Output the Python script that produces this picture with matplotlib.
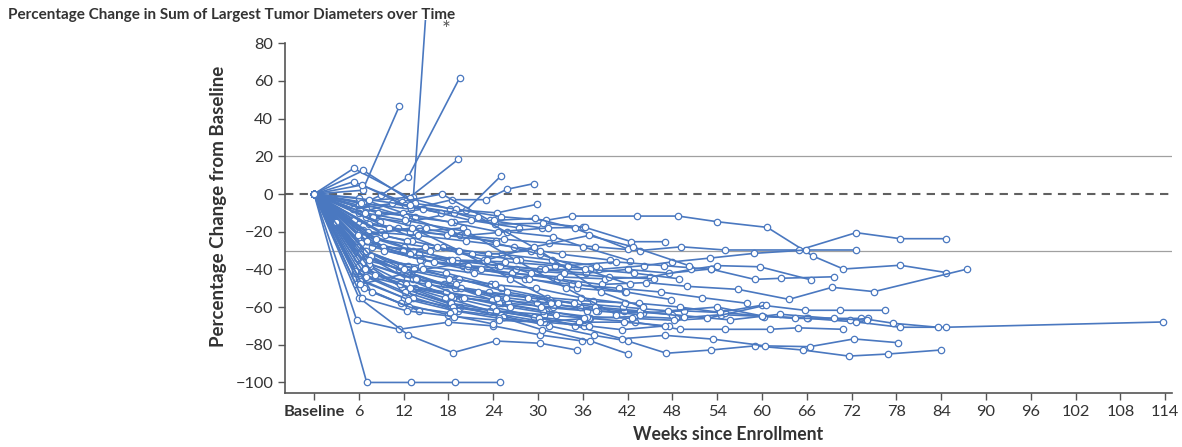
import matplotlib
matplotlib.use('Agg')
import matplotlib.pyplot as plt

# ===== dados (semana, % de variação) =====
weeks = [
    [0, 6, 13.3, 15.9],
    [0, 6.5, 11.4],
    [0, 6, 9, 12.6, 19.5],
    [0, 6, 12.4, 19.3],
    [0, 7, 12.5, 20.4, 25],
    [0, 6.5, 13, 18.5, 23, 25.8, 29.4],
    [0, 5.3, 12.8, 18.2, 24.5, 29.8],
    [0, 6.6, 13.5, 19, 25, 31, 34.5, 43.2, 48.8, 54, 60.7, 66.8, 70.9, 78.5, 84.7],
    [0, 5.3, 11.8, 17.1, 23.5, 30.5, 36],
    [0, 6.4, 12.2, 18.8, 24.2, 30.7, 36.3, 42.5, 47],
    [0, 7.05, 13, 18.9, 24.9],
    [0, 5.7, 11.4, 18, 24, 30.3, 35.9],
    [0, 6, 12.6, 18.6, 24.3, 30.3, 35.2],
    [0, 7.2, 13.2, 19.5, 25.5, 31.5, 37.5, 42, 47.2, 53.1, 59, 65.5, 71.6, 76.9, 83.9],
    [0, 6.2, 11.8, 18.2, 24.8, 30.5, 37, 42.1],
    [0, 5.8, 12.4, 18.6, 24, 29.5, 35, 41.2, 47, 53.4, 60.4, 66.4, 72.3, 78.2],
    [0, 6.8, 13, 19.2, 25.2, 31, 37, 43, 49, 55, 61, 64.8, 70.9],
    [0, 6, 12, 18.4, 24.4, 30.8, 36.8, 42.8, 48.5, 54.5, 60.3, 66.2, 72.6, 78.5, 84.6, 113.7],
    [0, 7.5, 13.5, 19.8, 26, 32, 38, 44, 49.5, 55, 60, 66, 73.3, 77.6, 83.5],
    [0, 5.5, 11.6, 17.6, 23.8, 29.8, 35.6, 41.5, 48, 55.7, 62.4, 71.8, 74.2],
    [0, 6.3, 12.6, 18.9, 25, 31.2, 37.3, 43.5, 49, 54.3, 60, 65.7, 70.5, 76.4],
    [0, 7, 14, 20, 26.5, 32.5, 38.5, 44.5, 50, 56.8, 63.6, 69.4, 75, 87.5],
    [0, 6.1, 12.1, 18.1, 24.6, 30.2, 36.4, 42, 47.5, 53.1, 59, 62.6, 69.7],
    [0, 5.9, 12.9, 19.6, 25.4, 31.4, 37.6, 43.6, 49.2, 55, 65, 72.6, 78.5, 84.6],
    [0, 6.7, 13.3, 19.1, 25.6, 32.2, 38.2, 44.2, 48, 53, 58.9, 65.9, 72.6],
    [0, 7.8, 14.5, 20.5, 26.5, 33, 39, 45, 50.5, 54, 59.7, 66.6],
    [0, 6.4, 11.4, 17.4, 23.4, 29.4, 35.4, 41.4, 47.4, 54, 60, 64.4, 69.7, 74],
    [0, 5.6, 12.3, 18.3, 24.7, 30.6, 36.6, 42.6, 48.2, 52.6, 60.5],
    [0, 6.9, 12.7, 18.7, 24.1, 29.6, 34.9, 42.1],
    [0, 8, 14, 20.2, 25.9, 32, 36, 42.3],
    [0, 6.2, 13.1, 19.3, 25.2, 31.8, 37.8],
    [0, 5.4, 11.2, 17.8, 24.3],
    [0, 7.3, 13.7, 19.9],
    [0, 6.6, 12.4],
    [0, 5.9, 11.9, 17.3, 23.3, 29.1],
    [0, 7.1, 14.2, 20.6, 27, 33.5, 39.5, 45.5],
    [0, 6.3, 12.8, 18.5, 24.9, 30.9, 36.9, 42.9, 48.9],
    [0, 5.7, 11.7, 17.7, 23.7, 29.7, 35.7, 41.7],
    [0, 6.9, 13.4, 19.4, 25.8, 31.6, 37.6, 43.6, 49.6],
    [0, 6.1, 12.5, 18.9, 24.5, 30.4, 36.5],
    [0, 7.6, 13.8, 20.1, 26.2, 32.4],
    [0, 5.8, 12, 18.1, 24.2],
    [0, 6.5, 13.2, 19],
    [0, 7.4, 13.6, 19.7, 25.7, 31.7, 37.7, 43.7],
    [0, 6, 11.5, 17.5, 23.5, 29.5, 35.5, 41.5, 47.5],
    [0, 6.8, 12.9, 18.4, 24.4, 30.1, 36.1],
    [0, 5.5, 12.2, 18.6, 25.1, 31.1],
    [0, 7, 13.3, 19.3, 25.3],
    [0, 6.2, 12.6, 18.8, 24.8, 30.8, 36.8, 41.2, 47],
    [0, 5.6, 11.6, 17.9, 24],
    [0, 6.7, 12.7, 18.2],
    [0, 7.7, 14.1],
    [0, 6.4, 12.4, 18.7, 24.7, 30.3, 36.2],
    [0, 8.5, 13.5],
    [0, 5.2, 10.5, 17],
    [0, 7.9, 14.6, 21, 27.5],
    [0, 9, 15],
    [0, 9.5],
    [0, 8.8],
    [0, 7.2, 13.9, 20.4, 26.8, 33.2, 39.6],
    [0, 6, 11.9, 18.3, 24.6, 31.3],
    [0, 9.2, 15.5],
    [0, 8.3, 14.8, 21.2, 27.6, 34, 40.4, 46.8, 53.2],
    [0, 6.3, 12.3, 18.3, 24.3, 30.3, 36.3, 42.3],
    [0, 7.4, 14.3, 21.4, 28.2, 34.6, 40.8, 46.4, 52, 58],
    [0, 2.9],
    [0, 9.4, 16, 22.4, 28.8, 35.2, 41.6],
    [0, 8.1, 15.2, 22, 28.6, 34.8],
    [0, 10, 16.5, 22.8, 29, 35.4, 41.8, 47.8],
    [0, 6.8, 12.2, 20.5, 27, 33.8, 40.5],
    [0, 5.9, 13.1, 19.4, 26.3, 32.7],
    [0, 7.3, 12.9, 22, 30.2, 38.4, 44],
    [0, 6.1, 14.6, 23.1, 29.5, 36.8, 42.7, 50.2],
]

changes = [
    [0, -4, -1.5, 150],
    [0, 2, 46.5],
    [0, -6, -0.5, 9, 61.7],
    [0, -10, -3, 18.4],
    [0, -12, -15, -8.5, 9.5],
    [0, -5, -8, -3, -3, 2.5, 5.5],
    [0, 13.6, -2, -8, -10, -5.5],
    [0, 12.5, -5, -8, -12, -14, -11.7, -11.7, -11.7, -14.7, -17.7, -32.9, -39.8, -37.8, -41.7],
    [0, 6.5, -4, 0, -14, -18, -17.7],
    [0, 4.8, -6, -10, -16, -15.5, -17.7, -25.3, -25.3],
    [0, -100, -100, -100, -100],
    [0, -66.8, -71.8, -68, -70, -74.8, -78],
    [0, -55, -74.8, -84.2, -78, -79.2, -82.8],
    [0, -40, -52, -60, -65, -70, -75, -78, -84.5, -82.8, -80.6, -82.8, -86, -84.9, -82.8],
    [0, -35, -50, -58, -65, -72, -78, -84.9],
    [0, -30, -45, -55, -60, -65, -70, -76.8, -75, -77, -80.6, -81, -76.9, -78.9],
    [0, -30, -42, -50, -58, -62, -66, -68, -71.8, -71.8, -71.8, -71, -71.8],
    [0, -45, -55, -60, -62, -64, -66, -65, -66, -64, -65, -66, -67.9, -70.7, -70.7, -67.9],
    [0, -38, -50, -55, -58, -60, -62, -63, -62, -63, -64.7, -66, -66, -68.6, -70.7],
    [0, -42, -48, -52, -56, -58, -60, -62, -64, -66.8, -63.8, -66.8, -66],
    [0, -30, -38, -45, -50, -55, -57, -58, -60, -62.8, -59, -61.7, -61.7, -61.7],
    [0, -25, -32, -38, -42, -45, -48, -47, -49, -50.6, -55.9, -49.5, -51.8, -39.8],
    [0, -20, -28, -35, -38, -40, -42, -40, -42, -39.8, -45.3, -44.7, -43.9],
    [0, -15, -20, -22, -24, -26, -28, -30, -28, -29.7, -29.7, -20.5, -23.7, -23.7],
    [0, -22, -30, -35, -36, -38, -40, -38, -36, -34, -31.5, -29.7, -29.7],
    [0, -28, -35, -40, -42, -44, -45, -44, -40, -38, -38.6, -45.6],
    [0, -32, -40, -48, -52, -55, -58, -60, -62, -60, -64.7, -66, -66, -67],
    [0, -40, -48, -54, -58, -62, -65, -66, -67, -66, -59],
    [0, -8, -12, -15, -14, -12.9, -18.2, -29.3],
    [0, -12, -18, -22, -20, -22.6, -28, -35.4],
    [0, -20, -25, -30, -32, -35, -38],
    [0, -14, -18, -22, -25],
    [0, -16, -20, -18],
    [0, -19, -25],
    [0, -24, -30, -28, -32, -30],
    [0, -25, -35, -38, -40, -42, -44, -45],
    [0, -26, -32, -35, -38, -40, -40, -42, -45],
    [0, -28, -38, -42, -48, -50, -55, -58],
    [0, -30, -40, -45, -52, -56, -60, -62, -65],
    [0, -32, -42, -50, -55, -60, -62],
    [0, -33, -45, -55, -60, -64],
    [0, -34, -40, -45, -48],
    [0, -36, -45, -48],
    [0, -37, -45, -50, -55, -58, -62, -64],
    [0, -38, -48, -55, -62, -65, -68, -68, -70],
    [0, -40, -50, -58, -62, -66, -70],
    [0, -41, -52, -60, -64, -68],
    [0, -44, -55, -62, -65],
    [0, -46, -56, -62, -66, -68, -70, -72, -70],
    [0, -48, -58, -64, -69],
    [0, -50, -60, -63],
    [0, -52, -62],
    [0, -55, -62, -65, -67, -68, -66],
    [0, -10, -12],
    [0, -8, -5, -10],
    [0, -12, -8, -14, -18],
    [0, -20, -18],
    [0, -22],
    [0, -15],
    [0, -20, -22, -25, -28, -32, -35],
    [0, -2, -10, -15, -20, -18],
    [0, -28, -30],
    [0, -24, -28, -32, -35, -38, -36, -38, -40],
    [0, -5, -12, -20, -26, -32, -40, -48],
    [0, -35, -38, -42, -45, -48, -50, -52, -55, -58],
    [0, -14.7],
    [0, -30, -36, -40, -45, -50, -52],
    [0, -43, -48, -52, -55, -58],
    [0, -18, -28, -35, -42, -48, -52, -56],
    [0, -10, -14, -20, -35, -50, -64],
    [0, -22, -18, -30, -45, -58],
    [0, -3, -6, -12, -30, -52, -60],
    [0, -48, -40, -35, -28, -22, -28, -38],
]

xticks = [0, 6, 12, 18, 24, 30, 36, 42, 48, 54, 60, 66, 72, 78, 84, 90, 96, 102, 108, 114]
xticklabels = ['Baseline'] + [str(t) for t in xticks[1:]]
yticks = [80, 60, 40, 20, 0, -20, -40, -60, -80, -100]

blue = '#4a78c0'
fnt = 'Lato'

fig = plt.figure(figsize=(11.82, 4.47), dpi=100)
ax = fig.add_axes([0.2411, 0.1208, 0.7504, 0.8342])

# linhas de referência
ax.axhline(20, color='#a0a0a0', lw=0.9, zorder=1)
ax.axhline(-30, color='#a0a0a0', lw=0.9, zorder=1)
ax.axhline(0, color='#606060', lw=1.5, ls=(0, (4, 3)), zorder=1)

for w, c in zip(weeks, changes):
    ax.plot(w, c, color=blue, lw=1.2, marker='o', ms=4.6, mfc='white',
            mec=blue, mew=0.9, zorder=2)

ax.text(17.7, 87, '*', fontsize=15, color='#555555', ha='center', va='center', family=fnt)

ax.set_xlim(-3.9, 114.9)
ax.set_ylim(-105.6, 92.3)
ax.spines['top'].set_visible(False)
ax.spines['right'].set_visible(False)
ax.spines['left'].set_bounds(-105.6, 80)
for s in ['left', 'bottom']:
    ax.spines[s].set_color('#555555')
    ax.spines[s].set_linewidth(1.2)

ax.set_xticks(xticks)
ax.set_xticklabels(xticklabels, family=fnt, fontsize=11.8, color='#333333')
ax.get_xticklabels()[0].set_fontweight('bold')
ax.set_yticks(yticks)
ax.set_yticklabels([str(v).replace('-', '\u2212') for v in yticks], family=fnt,
                   fontsize=11.8, color='#333333')
ax.tick_params(axis='both', color='#555555', width=1.0, length=5)

ax.set_ylabel('Percentage Change from Baseline', family=fnt, fontsize=13.5,
              fontweight='bold', color='#333333', labelpad=6)
ax.set_xlabel('Weeks since Enrollment', family=fnt, fontsize=12.7,
              fontweight='bold', color='#333333', labelpad=5)

fig.text(0.007, 0.966, 'Percentage Change in Sum of Largest Tumor Diameters over Time',
         family=fnt, fontsize=11, fontweight='bold', color='#333333', va='center')

fig.savefig('out.png', dpi=100)
